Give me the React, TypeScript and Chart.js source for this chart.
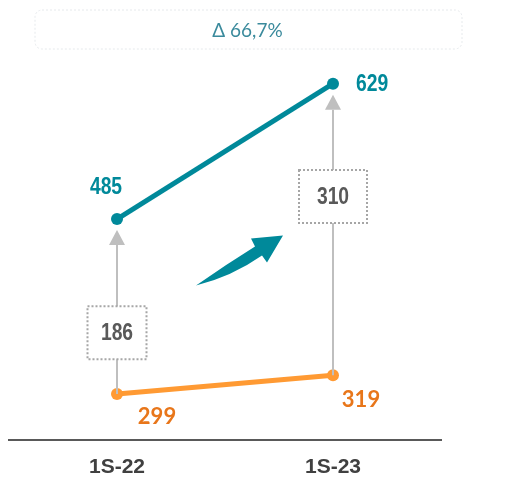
import React, { useEffect, useRef } from "react";
import { Chart, registerables } from "chart.js";

Chart.register(...registerables);

const categories = ["1S-22", "1S-23"];
const upperSeries = [485, 629];
const lowerSeries = [299, 319];
const gapValues = [186, 310];
const headline = "\u0394 66,7%";

const TEAL = "#00899A";
const ORANGE_LINE = "#FF9A33";
const ORANGE_TEXT = "#E8761A";
const GRAY_TEXT = "#595959";

const NUM_FONT = "bold 23px 'Liberation Sans', Arial, sans-serif";
const NARROW = 0.84;

function narrowText(ctx: CanvasRenderingContext2D, text: string, x: number, y: number, align: CanvasTextAlign) {
  ctx.save();
  ctx.translate(x, y);
  ctx.scale(NARROW, 1);
  ctx.textAlign = align;
  ctx.fillText(text, 0, 0);
  ctx.restore();
}

const overlayPlugin = {
  id: "overlay",
  afterDatasetsDraw(chart: any) {
    const ctx = chart.ctx as CanvasRenderingContext2D;
    const xs = chart.scales.x;
    const ys = chart.scales.y;
    const area = chart.chartArea;
    ctx.save();

    // top headline box
    const bx = area.left + 26, bw = 427, by = 10, bh = 39;
    ctx.strokeStyle = "#E6E9EC";
    ctx.lineWidth = 1;
    ctx.setLineDash([2, 2]);
    ctx.beginPath();
    (ctx as any).roundRect(bx, by, bw, bh, 7);
    ctx.stroke();
    ctx.setLineDash([]);
    ctx.fillStyle = "#3A8A9C";
    ctx.font = "19px Lato, 'Open Sans', sans-serif";
    ctx.textAlign = "center";
    ctx.textBaseline = "middle";
    ctx.fillText(headline, bx + bw / 2 - 1, by + bh / 2 + 1);

    // gray connectors with arrowheads and dotted boxes
    categories.forEach((_, i) => {
      const x = xs.getPixelForValue(i);
      const yLow = ys.getPixelForValue(lowerSeries[i]);
      const yHigh = ys.getPixelForValue(upperSeries[i]);
      const tipY = yHigh + 11;
      const headH = 15;
      ctx.strokeStyle = "#BFBFBF";
      ctx.lineWidth = 2;
      ctx.beginPath();
      ctx.moveTo(x, yLow);
      ctx.lineTo(x, tipY + headH);
      ctx.stroke();
      ctx.fillStyle = "#BFBFBF";
      ctx.beginPath();
      ctx.moveTo(x, tipY);
      ctx.lineTo(x - 8, tipY + headH);
      ctx.lineTo(x + 8, tipY + headH);
      ctx.closePath();
      ctx.fill();

      // dotted box
      const cy = i === 0 ? ys.getPixelForValue(lowerSeries[i] + 65) : ys.getPixelForValue(lowerSeries[i] + 190);
      const w = i === 0 ? 59 : 68;
      const h = 53;
      ctx.fillStyle = "#FFFFFF";
      ctx.fillRect(x - w / 2, cy - h / 2, w, h);
      ctx.strokeStyle = "#A6A6A6";
      ctx.lineWidth = 2;
      ctx.setLineDash([2, 2]);
      ctx.strokeRect(x - w / 2, cy - h / 2, w, h);
      ctx.setLineDash([]);
      ctx.fillStyle = GRAY_TEXT;
      ctx.font = NUM_FONT;
      ctx.textBaseline = "middle";
      narrowText(ctx, String(gapValues[i]), x, cy + 1, "center");
    });

    // curved teal arrow between categories
    const mx = (xs.getPixelForValue(0) + xs.getPixelForValue(1)) / 2;
    const my = ys.getPixelForValue(400);
    const ox = mx - 225, oy = my - 298.5;
    ctx.fillStyle = TEAL;
    ctx.beginPath();
    ctx.moveTo(ox + 196, oy + 285);
    ctx.quadraticCurveTo(ox + 226, oy + 264, ox + 255, oy + 246);
    ctx.lineTo(ox + 251, oy + 238);
    ctx.lineTo(ox + 283, oy + 235);
    ctx.lineTo(ox + 267, oy + 262);
    ctx.lineTo(ox + 262, oy + 255);
    ctx.quadraticCurveTo(ox + 232, oy + 276, ox + 196, oy + 285);
    ctx.closePath();
    ctx.fill();

    // data labels
    const m0 = chart.getDatasetMeta(0).data;
    const m1 = chart.getDatasetMeta(1).data;
    ctx.textBaseline = "middle";
    ctx.font = NUM_FONT;
    ctx.fillStyle = TEAL;
    narrowText(ctx, String(upperSeries[0]), m0[0].x - 11, m0[0].y - 31, "center");
    narrowText(ctx, String(upperSeries[1]), m0[1].x + 23, m0[1].y + 1, "left");
    ctx.font = "bold 22px Lato, sans-serif";
    ctx.fillStyle = ORANGE_TEXT;
    ctx.textAlign = "center";
    ctx.fillText(String(lowerSeries[0]), m1[0].x + 40, m1[0].y + 23);
    ctx.fillText(String(lowerSeries[1]), m1[1].x + 28, m1[1].y + 25);

    ctx.restore();
  },
};

export default function App() {
  const ref = useRef<HTMLCanvasElement | null>(null);
  useEffect(() => {
    if (!ref.current) return;
    const chart = new Chart(ref.current, {
      type: "line",
      data: {
        labels: categories,
        datasets: [
          {
            data: upperSeries,
            borderColor: TEAL,
            backgroundColor: TEAL,
            borderWidth: 5,
            pointRadius: 6,
            pointHoverRadius: 6,
            pointBorderWidth: 0,
          },
          {
            data: lowerSeries,
            borderColor: ORANGE_LINE,
            backgroundColor: ORANGE_LINE,
            borderWidth: 5,
            pointRadius: 6,
            pointHoverRadius: 6,
            pointBorderWidth: 0,
          },
        ],
      },
      options: {
        animation: false,
        responsive: false,
        maintainAspectRatio: false,
        layout: { padding: { left: 9, right: 65, top: 64, bottom: 0 } },
        plugins: { legend: { display: false }, tooltip: { enabled: false } },
        scales: {
          x: {
            offset: true,
            afterFit: (scale: any) => {
              scale.height = 39;
            },
            grid: { display: false, drawTicks: false },
            border: { display: true, color: "#595959", width: 2 },
            ticks: {
              color: "#404040",
              padding: 15,
              font: { family: "'Liberation Sans', Arial", size: 21, weight: "bold" },
            },
          },
          y: {
            display: false,
            min: 250,
            max: 650,
          },
        },
      },
      plugins: [overlayPlugin],
    });
    return () => chart.destroy();
  }, []);
  return (
    <div style={{ position: "fixed", left: 0, top: 0, width: 506, height: 479, background: "#fff" }}>
      <canvas ref={ref} width={506} height={479} style={{ width: 506, height: 479 }} />
    </div>
  );
}
